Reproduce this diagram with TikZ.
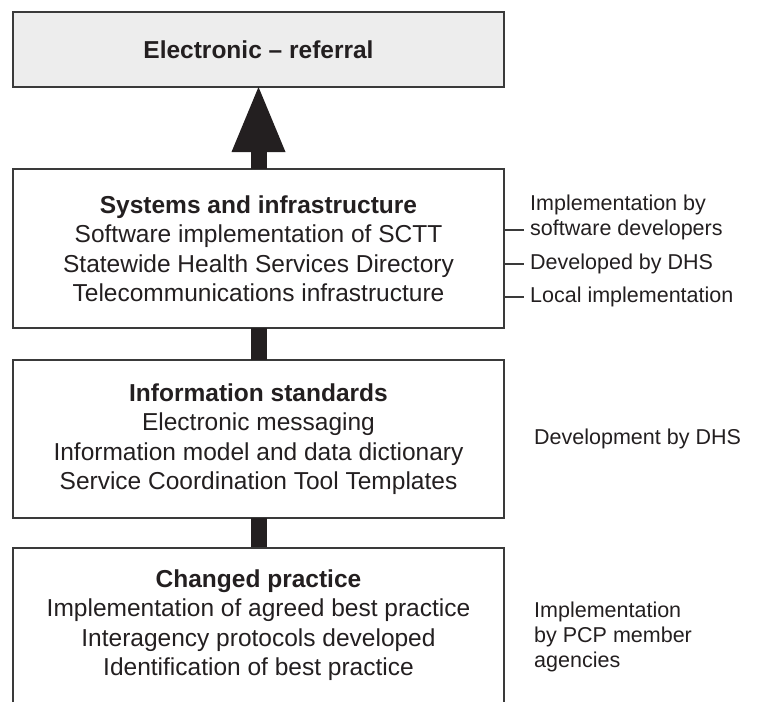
\documentclass[tikz,border=0pt]{standalone}
\usepackage{fontspec}
\setmainfont{Liberation Sans}
\usepackage{xcolor}
\usetikzlibrary{arrows.meta, positioning}
\definecolor{inkgray}{HTML}{231F20}
\definecolor{linegray}{HTML}{3A3A3A}
\definecolor{boxfill}{HTML}{EDEDED}

\begin{document}
\begin{tikzpicture}[
        node distance=30pt and 20pt,
        box/.style={rectangle, draw=linegray, line width=1.3pt, outer sep=0pt, minimum width=491pt, minimum height=158pt, align=center, text=inkgray, font=\fontsize{24.5}{29.5}\selectfont},
        note/.style={align=left, inner xsep=6pt, inner ysep=0pt, text=inkgray, font=\fontsize{21.5}{25}\selectfont},
        stem/.style={line width=16pt, draw=inkgray},
        arrow/.style={-{Triangle[length=65pt, width=54pt, line width=0pt]}, line width=16pt, draw=inkgray},
        tick/.style={draw=linegray, line width=1.3pt}
    ]
        \useasboundingbox (0,0) rectangle (760pt,-702pt);

        % Nodes
        \node[box, fill=boxfill, minimum height=75pt] (eref) at (258.5pt,-49.5pt) {\textbf{Electronic -- referral}};
        \node[box, below=82pt of eref, minimum height=159pt] (systems) {\textbf{Systems and infrastructure}\\Software implementation of SCTT\\Statewide Health Services Directory\\Telecommunications infrastructure};
        \node[box, below=32pt of systems] (standards) {\textbf{Information standards}\\Electronic messaging\\Information model and data dictionary\\Service Coordination Tool Templates};
        \node[box, draw=none, below=of standards, minimum height=154pt] (practice) {\textbf{Changed practice}\\Implementation of agreed best practice\\Interagency protocols developed\\Identification of best practice};

        % Side notes
        \coordinate (t1) at ([yshift=-61pt]systems.north east);
        \coordinate (t2) at ([yshift=-95pt]systems.north east);
        \coordinate (t3) at ([yshift=-128pt]systems.north east);
        \node[note, right=of t1, yshift=12.5pt] (swdev) {Implementation by\\software developers};
        \node[note, right=of t2] (dhsdev) {Developed by DHS};
        \node[note, right=of t3] (local) {Local implementation};
        \node[note, right=24pt of standards] (dhsstd) {Development by DHS};
        \node[note, right=24pt of practice, yshift=-12pt] (pcp) {Implementation\\by PCP member\\agencies};

        % Arrows
        \draw[arrow] (systems) -- (eref);
        \draw[stem] (standards) -- (systems);
        \draw[stem] (practice) -- (standards);
        \draw[draw=linegray, line width=1.3pt] (practice.south west) |- (practice.north east) -- (practice.south east);
        \draw[tick] (t1) -- (t1 -| swdev.west);
        \draw[tick] (t2) -- (dhsdev);
        \draw[tick] (t3) -- (local);
    \end{tikzpicture}
\end{document}
